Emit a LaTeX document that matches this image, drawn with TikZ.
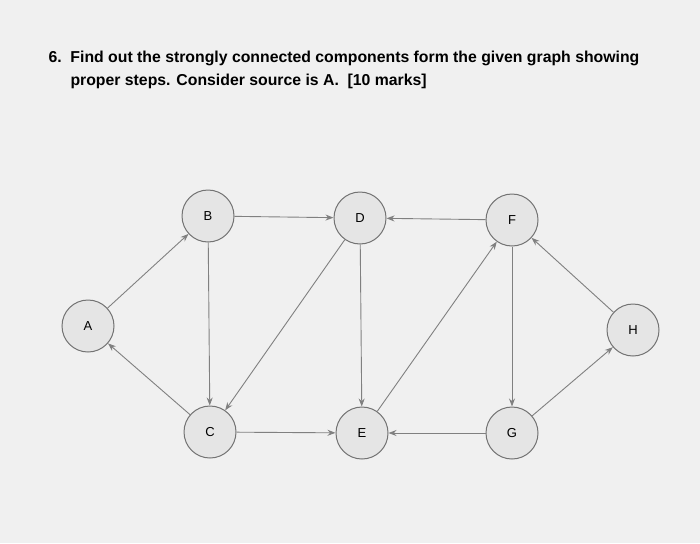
\documentclass[tikz,border=0pt]{standalone}
\usepackage{fontspec}
\setmainfont{Liberation Sans}
\usetikzlibrary{arrows.meta}
\begin{document}
\begin{tikzpicture}[x=1pt,y=-1pt,
  vtx/.style={circle,draw=black!55,fill=black!10,line width=1pt,minimum size=52pt,inner sep=0pt,font=\fontsize{13}{15}\selectfont},
  edge/.style={draw=black!50,line width=0.9pt,-{Stealth[length=8pt,width=6pt]}}]
\fill[black!6] (0,0) rectangle (700,543);
\useasboundingbox (0,0) rectangle (700,543);
\node[anchor=west,font=\bfseries\fontsize{15.8}{19}\selectfont] (t1) at (45,58) {6.\ \ Find out the strongly connected components form the given graph showing};
\node[anchor=west,font=\bfseries\fontsize{15.8}{19}\selectfont] (t2) at (67,81) {proper steps. Consider source is A.\ \ [10 marks]};
\node[vtx] (A) at (88,326) {A};
\node[vtx] (B) at (208,216) {B};
\node[vtx] (D) at (360,218) {D};
\node[vtx] (F) at (512,220) {F};
\node[vtx] (H) at (633,330) {H};
\node[vtx] (C) at (210,432) {C};
\node[vtx] (E) at (362,433) {E};
\node[vtx] (G) at (512,433) {G};
\path[edge] (A) -- (B);
\path[edge] (B) -- (D);
\path[edge] (F) -- (D);
\path[edge] (H) -- (F);
\path[edge] (B) -- (C);
\path[edge] (D) -- (C);
\path[edge] (D) -- (E);
\path[edge] (E) -- (F);
\path[edge] (F) -- (G);
\path[edge] (G) -- (H);
\path[edge] (C) -- (E);
\path[edge] (G) -- (E);
\path[edge] (C) -- (A);
\end{tikzpicture}
\end{document}
